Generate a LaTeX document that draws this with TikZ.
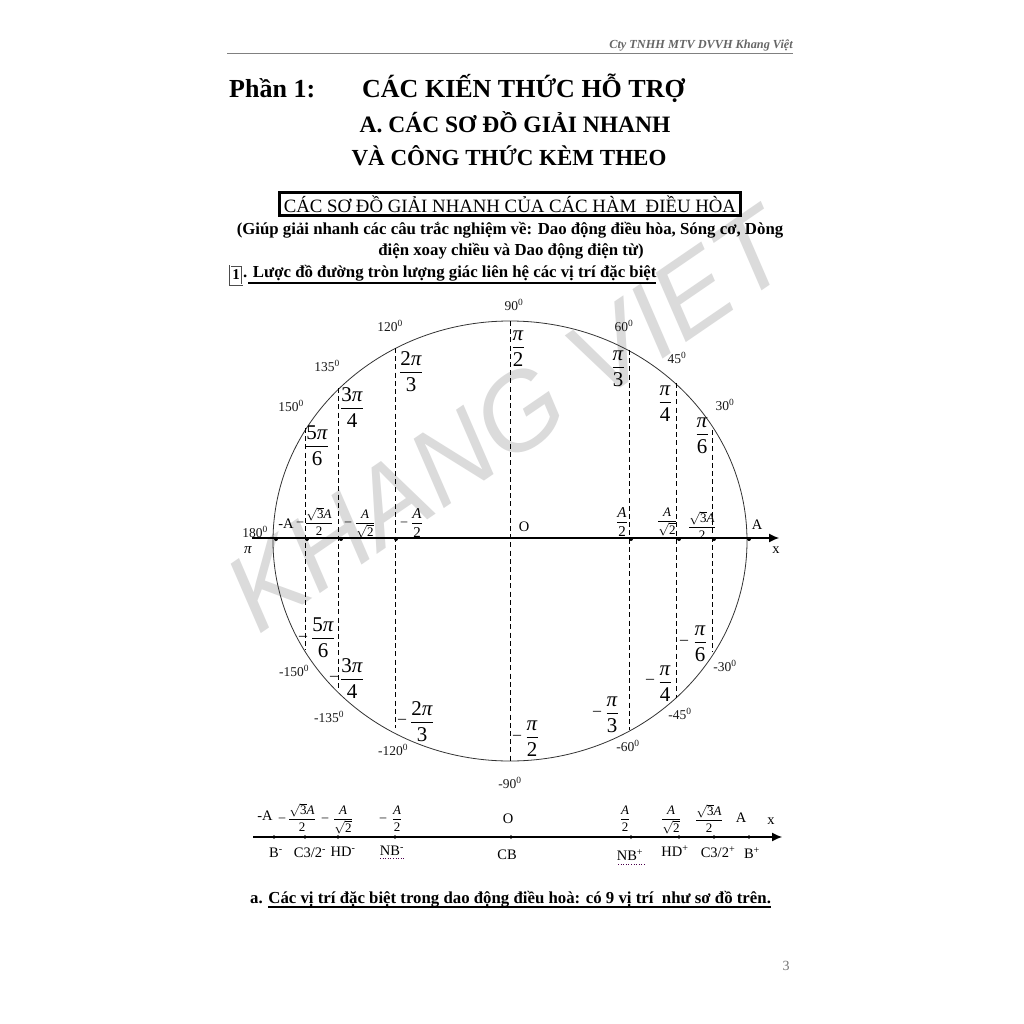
\documentclass[tikz,border=0pt]{standalone}
\usepackage{fix-cm}
\usepackage{fontspec}
\setmainfont{Liberation Serif}
\newfontfamily\wmfont{Liberation Sans}
\usetikzlibrary{arrows.meta}
\tikzset{
  fs/.style={inner sep=0pt,font=\fontsize{#1}{#1}\selectfont},
  deg/.style={fs=13.5,text=black!90},
  big/.style={inner sep=0pt,font=\fontsize{16.8}{17}\selectfont\bfseries},
  dashline/.style={line width=0.9pt,dash pattern=on 5pt off 3.2pt},
  dot/.style={circle,fill=black,inner sep=0pt,minimum size=4pt},
  ax/.style={line width=1.1pt,-{Latex[length=10pt,width=9pt]}},
  spell/.style={line width=0.6pt,dotted,violet!60!black},
}
\newcommand\Fr[2]{$\displaystyle\frac{\mbox{\raisebox{-0.1em}{#1}}}{\mbox{#2}}$}
\newcommand\FF[6]{\node[anchor=base,fs=#1] (#2) at (#3,{#4+0.25*#1}) {\Fr{#5}{#6}};}
\newcommand\Mn[4]{\node[fs=#1] (#2) at (#3,#4) {–};}
\newcommand\PIt{\textit{π}}
\newcommand\AIt{\textit{A}}
\newcommand\RAt{$\sqrt{\mbox{3}}$\textit{A}}
\newcommand\RTt{$\sqrt{\mbox{2}}$}
\newcommand\Dg[1]{#1\textsuperscript{0}}
\begin{document}
\begin{tikzpicture}[x=1pt,y=-1pt]
\useasboundingbox (0,0) rectangle (1024,1024);
\fill[white] (0,0) rectangle (1024,1024);
% watermark
\node[inner sep=0pt,text=black!14,rotate=34.4,anchor=base west,font=\fontsize{108}{108}\selectfont\wmfont\itshape] (wm) at (258,636) {KHANG VIET};
% header
\node[inner sep=0pt,text=black!60,font=\fontsize{12.3}{13}\selectfont\bfseries\itshape,anchor=east] (hd) at (793,45) {Cty TNHH MTV DVVH Khang Việt};
\coordinate (r1) at (227,53); \coordinate (r2) at (793,53);
\draw[black!50,line width=0.9pt] (r1) -- (r2);
% titles
\node[inner sep=0pt,font=\fontsize{26}{26}\selectfont\bfseries,anchor=west] (t1) at (229,88) {Phần 1:};
\node[inner sep=0pt,font=\fontsize{26}{26}\selectfont\bfseries,anchor=west] (t2) at (362,88) {CÁC KIẾN THỨC HỖ TRỢ};
\node[inner sep=0pt,font=\fontsize{23.5}{24}\selectfont\bfseries] (t3) at (515,122) {A. CÁC SƠ ĐỒ GIẢI NHANH};
\node[inner sep=0pt,font=\fontsize{23}{24}\selectfont\bfseries] (t4) at (509,156) {VÀ CÔNG THỨC KÈM THEO};
\node[draw,line width=2.4pt,minimum width=461pt,minimum height=23pt,inner sep=0pt,font=\fontsize{18.8}{19}\selectfont] (t5) at (510,204) {CÁC SƠ ĐỒ GIẢI NHANH CỦA CÁC HÀM\ \ ĐIỀU HÒA};
\node[big] (t6) at (510,230) {(Giúp giải nhanh các câu trắc nghiệm về: Dao động điều hòa, Sóng cơ, Dòng};
\node[big] (t7) at (511,251) {điện xoay chiều và Dao động điện từ)};
\node[draw=black!70,double,double distance=0.8pt,line width=0.6pt,minimum width=12pt,minimum height=19pt,inner sep=0pt,font=\fontsize{15}{15}\selectfont\bfseries] (t8) at (236,275) {1};
\node[big,anchor=west] (t9) at (243,273) {. Lược đồ đường tròn lượng giác liên hệ các vị trí đặc biệt};
\coordinate (u1) at (248,283); \coordinate (u2) at (656,283);
\draw[line width=1.2pt] (u1) -- (u2);
% circle
\coordinate (C) at (510,541);
\draw[black!80,line width=0.8pt] (C) ellipse [x radius=237,y radius=220];
% verticals
\foreach \n/\x/\a/\b in {a/305/428/650,b/338/388/690,c/395/348/728,d/510/321/761,e/629/350/730,f/676/383/698,g/712/430/652}{
  \coordinate (\n1) at (\x,\a); \coordinate (\n2) at (\x,\b);
  \draw[dashline] (\n1) -- (\n2);
}
% axis
\coordinate (xa) at (252,538); \coordinate (xb) at (779,538);
\draw[ax] (xa) -- (xb);
\foreach \x in {276,307,341,396,631,679,714,749}{\node[dot] (p\x) at (\x,539) {};}
% angle labels
\foreach \n/\x/\y/\t in {90/514/305/90,120/390/326/120,135/327/366/135,150/291/406/150,60/624/326/60,45/677/358/45,30/725/405/30,180/255/532/180,
  m150/294/671/-150,m135/329/717/-135,m120/393/750/-120,m90/510/783/-90,m60/628/746/-60,m45/680/714/-45,m30/725/666/-30}{
  \node[deg] (g\n) at (\x,\y) {\Dg{\t}};
}
\node[fs=15] (pi180) at (248,550) {\PIt};
\node[fs=14.5] (lmA) at (286,524) {-A};
\node[fs=14.5] (lO) at (524,527) {O};
\node[fs=14.5] (lA) at (757,525) {A};
\node[fs=14.5] (lx) at (776,550) {x};
% big fractions top
\FF{21}{fa}{317}{446}{5\PIt}{6}
\FF{21}{fb}{352}{408}{3\PIt}{4}
\FF{21}{fc}{411}{372}{2\PIt}{3}
\FF{21}{fd}{518}{347}{\PIt}{2}
\FF{21}{fe}{618}{367}{\PIt}{3}
\FF{21}{ff}{665}{402}{\PIt}{4}
\FF{21}{fg}{702}{434}{\PIt}{6}
% small fractions on axis
\Mn{13}{m1}{300}{524}
\FF{13}{sa}{319}{523}{\RAt}{2}
\Mn{13}{m2}{348}{524}
\FF{13}{sb}{365}{523}{\AIt}{\RTt}
\Mn{13}{m3}{404}{524}
\FF{15}{sc}{417}{523}{\AIt}{2}
\FF{15}{sd}{622}{522}{\AIt}{2}
\FF{13}{se}{667}{521}{\AIt}{\RTt}
\FF{13}{sf}{702}{527}{\RAt}{2}
% big fractions bottom
\Mn{16}{m4}{303}{638}\FF{21}{la}{323}{638}{5\PIt}{6}
\Mn{16}{m5}{334}{678}\FF{21}{lb}{352}{679}{3\PIt}{4}
\Mn{16}{m6}{402}{721}\FF{21}{lc}{422}{722}{2\PIt}{3}
\Mn{16}{m7}{517}{737}\FF{21}{ld}{532}{737}{\PIt}{2}
\Mn{16}{m8}{597}{713}\FF{21}{le}{612}{713}{\PIt}{3}
\Mn{16}{m9}{650}{681}\FF{21}{lf}{665}{682}{\PIt}{4}
\Mn{16}{m10}{684}{642}\FF{21}{lg}{700}{642}{\PIt}{6}
% lower axis
\coordinate (ya) at (253,837); \coordinate (yb) at (782,837);
\draw[ax] (ya) -- (yb);
\foreach \x in {274,305,338,395,511,631,679,714,749}{\node[dot,minimum size=3.6pt] (q\x) at (\x,837) {};}
\node[fs=14.5] (qmA) at (265,816) {-A};
\node[fs=14.5] (qO) at (508,819) {O};
\node[fs=14.5] (qA) at (741,818) {A};
\node[fs=14.5] (qx) at (771,821) {x};
\Mn{13}{n1}{282}{820}\FF{13}{ta}{302}{819}{\RAt}{2}
\Mn{13}{n2}{325}{820}\FF{13}{tb}{343}{819}{\AIt}{\RTt}
\Mn{13}{n3}{383}{820}\FF{13}{tc}{397}{819}{\AIt}{2}
\FF{13}{td}{625}{819}{\AIt}{2}
\FF{13}{te}{671}{819}{\AIt}{\RTt}
\FF{13}{tf}{709}{820}{\RAt}{2}
\foreach \n/\x/\y/\t in {1/276/853/{B\textsuperscript{-}},2/310/853/{C3/2\textsuperscript{-}},3/343/852/{HD\textsuperscript{-}},4/392/851/{NB\textsuperscript{-}},5/507/855/{CB},6/630/855/{NB\textsuperscript{+}},7/675/851/{HD\textsuperscript{+}},8/718/852/{C3/2\textsuperscript{+}},9/752/853/{B\textsuperscript{+}}}{
  \node[fs=14.5] (b\n) at (\x,\y) {\t};
}
\coordinate (s1) at (380,858); \coordinate (s2) at (405,858);
\coordinate (s3) at (618,864); \coordinate (s4) at (645,864);
\draw[spell] (s1) -- (s2);
\draw[spell] (s3) -- (s4);
% last line
\node[big,anchor=west] (z1) at (250,899) {a. Các vị trí đặc biệt trong dao động điều hoà: có 9 vị trí\ \ như sơ đồ trên.};
\coordinate (v1) at (268,907); \coordinate (v2) at (771,907);
\draw[line width=1.2pt] (v1) -- (v2);
\node[fs=14,text=black!55] (pg) at (786,966) {3};
\end{tikzpicture}
\end{document}
